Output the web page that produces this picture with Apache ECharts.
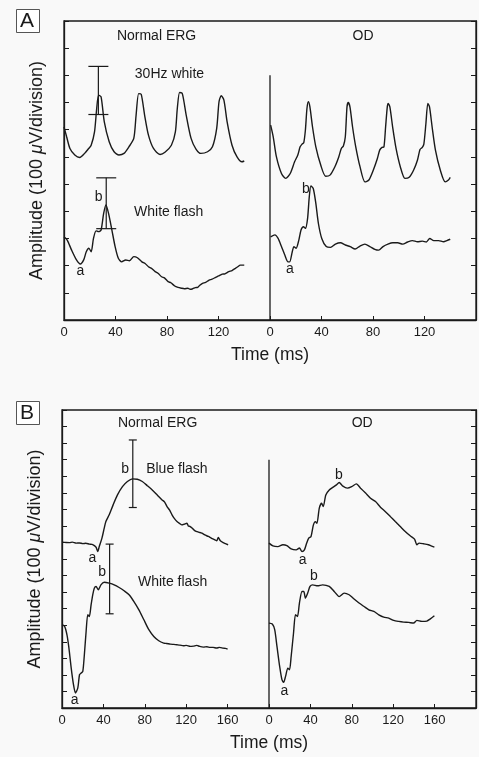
<!DOCTYPE html>
<html><head><meta charset="utf-8">
<script src="https://cdn.jsdelivr.net/npm/echarts@6/dist/echarts.min.js"></script>
<style>html,body{margin:0;padding:0;background:#f9f9f9}#c{width:479px;height:757px}</style>
</head><body><div id="c"></div>
<script>
// ---------- Panel A (time in ms, amplitude in divisions of 100 µV) ----------
const aRightOffset = 160;          // right panel (OD) starts at this global time
const aDividerTop = 9;             // OD panel axis height (divisions)
const aNormal30Hz = [[0,7.1],[2,6.75],[4.6,6.31],[8.4,6.07],[12.2,5.98],[16,6.13],[19,6.3],[21.1,6.43],[23.7,6.92],[25.4,7.78],[26.9,8.27],[28.8,8.21],[31.3,7.29],[35.1,6.56],[38.9,6.19],[42.7,6.07],[46.6,6.13],[50.4,6.37],[54.2,6.68],[56,7.54],[58,8.33],[60,8.30],[62.6,7.54],[65.6,6.80],[69.5,6.31],[74.6,6.09],[78.4,6.17],[83.4,6.43],[86.5,6.92],[88,7.78],[89.8,8.37],[91.9,8.33],[94.9,7.54],[98.7,6.68],[102.5,6.29],[106.3,6.13],[111.5,6.19],[115.3,6.37],[118.6,7.05],[120.4,8.03],[122.1,8.25],[124.2,8.09],[126.7,7.29],[130.5,6.43],[134.4,6.0],[138.2,5.82],[140,5.85]];
const aNormalFlash = [[0,3.06],[2.5,2.94],[5.9,2.57],[9.7,2.21],[12.7,2.06],[15.3,2.21],[17.3,2.51],[19.3,2.64],[21.1,2.51],[22.9,3.0],[24.9,3.28],[26.9,3.25],[28.8,3.31],[30.8,3.92],[32.6,4.23],[34.6,3.92],[37.2,3.31],[39.7,2.70],[42.2,2.27],[44.8,2.14],[47.9,2.21],[50.9,2.18],[54.2,2.33],[56.7,2.30],[60.5,2.14],[63,2.08],[65.6,1.96],[68,1.9],[70.8,1.78],[73,1.72],[75.8,1.59],[78,1.55],[80.9,1.41],[83,1.37],[86,1.25],[88.5,1.2],[91.1,1.17],[93.5,1.15],[96.2,1.17],[98,1.13],[100,1.15],[102,1.19],[103.8,1.20],[105.5,1.28],[107.6,1.35],[110,1.38],[112.7,1.47],[115,1.5],[117.8,1.57],[120,1.62],[122.9,1.69],[125,1.7],[128,1.78],[130.5,1.82],[133.1,1.90],[135,1.96],[136.9,2.02],[140,2.02]];
const aOD30Hz = [[0.5,7.17],[2.5,6.74],[5,6.0],[8.9,5.39],[12.2,5.21],[15.7,5.39],[19.1,5.82],[21.6,6.07],[23.4,6.37],[24.9,6.47],[26.2,6.52],[27.5,6.99],[28.7,7.78],[29.8,8.03],[31,7.84],[33,7.11],[35.6,6.37],[39.4,5.70],[43.2,5.29],[46.6,5.33],[50.4,5.64],[53.4,6.0],[55.4,6.31],[57,6.40],[58.5,6.74],[59.8,7.84],[60.8,8.0],[62.1,7.84],[64.1,7.11],[66.6,6.37],[69.9,5.64],[73.7,5.08],[76.8,5.15],[80.2,5.51],[83.4,5.94],[85.2,6.25],[87,6.35],[88.5,6.37],[89.8,7.11],[91.1,7.84],[91.8,7.97],[93.1,7.84],[95.4,7.05],[97.9,6.31],[101.2,5.64],[104.8,5.21],[108.1,5.25],[111.5,5.51],[114.5,5.88],[116.5,6.27],[118.3,6.35],[119.5,6.47],[121.1,7.23],[122.6,7.97],[123.9,7.84],[125.9,7.11],[128.5,6.25],[132.3,5.51],[136.1,5.08],[138.6,5.15],[140,5.25]];
const aODFlash = [[0.5,3.06],[3.8,3.13],[6.3,3.0],[8.9,2.70],[11.5,2.39],[14,2.14],[15.3,2.14],[17.3,2.51],[18.6,2.70],[20.3,2.64],[22.4,2.94],[24.1,3.31],[26,3.43],[27.5,3.37],[29.2,3.74],[30.5,4.53],[31.8,4.93],[33.6,4.84],[35.6,4.29],[37.6,3.55],[40.2,3.0],[43.7,2.70],[47,2.67],[50.8,2.79],[54.7,2.84],[58.5,2.76],[62.3,2.70],[66.1,2.61],[69.9,2.72],[73.7,2.79],[77.6,2.70],[81.4,2.60],[84.4,2.57],[87.8,2.70],[91.6,2.79],[95.4,2.84],[99.2,2.84],[103.1,2.79],[106.9,2.87],[110.7,2.92],[114.5,2.88],[118.3,2.90],[121.4,2.87],[124.1,3.0],[127.2,2.92],[131,2.92],[134.8,2.88],[137.4,2.92],[140,2.97]];
// error bars: [time, low, high]
const aErrorBars = [[26.7,7.56,9.33],[32.8,3.36,5.23]];
// annotations: [time, amplitude, text]
const aLabels = [[71.9,10.46,'Normal ERG'],[232.3,10.46,'OD'],[81.9,9.04,'30Hz white'],[81.3,3.96,'White flash'],[26.9,4.51,'b'],[12.8,1.80,'a'],[187.8,4.82,'b'],[175.5,1.87,'a']];

// ---------- Panel B ----------
const bRightOffset = 200;
const bDividerTop = 15;
const bNormalBlue = [[0,10.02],[4,10.0],[7.3,9.99],[10,10.02],[13.7,9.96],[17,9.97],[20.1,9.93],[23,9.95],[26.4,9.90],[29,9.88],[31.2,9.81],[33,9.7],[34.5,9.45],[36,9.75],[38.6,10.26],[40.8,10.86],[42.4,11.26],[45.6,11.67],[49.4,12.27],[53.6,12.87],[58.4,13.37],[63.2,13.68],[68,13.84],[72.8,13.82],[77.6,13.68],[82.4,13.43],[87.2,13.17],[92,12.87],[96.7,12.57],[99,12.45],[101.5,12.17],[104,11.95],[106.3,11.67],[108.5,11.45],[111.1,11.26],[113.5,11.15],[115.9,11.06],[118,11.1],[120.7,11.16],[122,11.0],[123.9,10.96],[126,10.85],[128.6,10.70],[132,10.62],[135.1,10.56],[138,10.45],[141.4,10.36],[144.5,10.25],[147.8,10.16],[149.5,10.1],[151,10.30],[153,10.1],[155.7,9.99],[158,9.93],[160.5,9.86]];
const bNormalWhite = [[0,5.03],[2.5,4.93],[4.8,4.42],[6.7,3.62],[8.9,2.41],[11.1,1.41],[13,0.91],[15.3,1.21],[16.9,2.01],[18.5,2.11],[20.1,2.21],[21.6,3.22],[23.3,4.62],[24.9,5.63],[26.4,5.53],[28.1,6.23],[29.7,6.84],[31.2,7.24],[32.9,7.34],[35.1,7.14],[37.6,7.44],[40.8,7.60],[45.6,7.54],[50.4,7.44],[55.2,7.28],[60,7.08],[64.8,6.84],[69.5,6.43],[74.3,5.93],[79.1,5.33],[83.9,4.73],[88.7,4.32],[93.5,4.06],[98.3,3.92],[101,3.9],[104.7,3.86],[108,3.84],[111.1,3.82],[114,3.8],[117.4,3.76],[120,3.78],[123.9,3.72],[127,3.74],[130.3,3.78],[133,3.72],[136.6,3.68],[140,3.7],[143,3.66],[146,3.66],[149.4,3.62],[152,3.66],[155.7,3.62],[158,3.6],[160,3.56]];
const bODBlue = [[0,9.96],[3.8,9.79],[8.6,9.75],[13.4,9.86],[17.3,9.81],[21.4,9.61],[26.2,9.55],[29.4,9.66],[31.9,9.45],[34.2,9.55],[36.4,9.96],[38.4,10.26],[40.6,10.36],[42.9,11.06],[44.8,11.26],[46.3,11.16],[48.6,12.07],[50.8,12.37],[52.4,12.17],[54.9,12.87],[58.2,13.17],[62,13.34],[65.2,13.48],[67.8,13.62],[71,13.42],[75.7,13.28],[79.9,13.37],[84.4,13.54],[88.5,13.28],[93.3,12.98],[98.1,12.67],[102.9,12.47],[107.7,12.13],[112.5,11.86],[117.3,11.56],[122,11.26],[126.8,10.96],[131.6,10.66],[136.4,10.40],[140.6,10.20],[142.9,9.86],[145.1,9.96],[149.3,9.92],[154.1,9.86],[156.6,9.79],[159.8,9.72]];
const bODWhite = [[0,5.13],[3.2,5.07],[5.5,4.73],[7.7,3.72],[10.3,2.51],[12.5,1.71],[14.1,1.55],[16,1.91],[18.2,2.41],[19.8,2.31],[21.4,3.11],[23.7,4.53],[25.6,5.63],[27.5,5.53],[29.4,6.34],[31.9,7.04],[33.6,7.04],[35.2,6.64],[37.4,6.94],[39.6,7.34],[42.2,7.44],[47,7.38],[51.8,7.44],[58.2,7.34],[63,7.04],[67.8,6.73],[72.6,6.94],[77.4,6.84],[82.2,6.58],[87,6.34],[91.8,6.13],[96.5,5.93],[101.3,5.83],[106.1,5.63],[110.9,5.49],[115.7,5.43],[120.5,5.29],[125.3,5.23],[130.1,5.19],[134.9,5.17],[139.7,5.13],[142.9,5.29],[147.7,5.23],[152.5,5.25],[155.6,5.37],[159.8,5.57]];
const bErrorBars = [[68.4,12.11,16.19],[46,5.69,9.90]];
const bLabels = [[92.4,17.2,'Normal ERG'],[290,17.2,'OD'],[111,14.42,'Blue flash'],[61.1,14.42,'b'],[29.4,9.03,'a'],[38.7,8.23,'b'],[106.8,7.58,'White flash'],[12.2,0.50,'a'],[267.6,14.08,'b'],[232.4,8.95,'a'],[243.4,7.94,'b'],[214.9,1.04,'a']];

// ---------- chart ----------
const FONT = 'Liberation Sans, Arial, sans-serif';
const INK = '#1a1a1a';
const shift = (arr, off) => arr.map(([t, v]) => [t + off, v]);

function traceSeries(data, gi) {
  return {type:'line', xAxisIndex:gi, yAxisIndex:gi*2, data, showSymbol:false, smooth:0.25,
    lineStyle:{color:INK, width:1.4}, silent:true, animation:false};
}
function errSeries(data, gi, half) {
  return {type:'custom', xAxisIndex:gi, yAxisIndex:gi*2, data, silent:true, animation:false,
    renderItem:(params, api) => {
      const lo = api.coord([api.value(0), api.value(1)]);
      const hi = api.coord([api.value(0), api.value(2)]);
      const st = {stroke:INK, lineWidth:1.2};
      return {type:'group', children:[
        {type:'line', shape:{x1:lo[0], y1:lo[1], x2:hi[0], y2:hi[1]}, style:st},
        {type:'line', shape:{x1:lo[0]-half, y1:lo[1], x2:lo[0]+half, y2:lo[1]}, style:st},
        {type:'line', shape:{x1:hi[0]-half, y1:hi[1], x2:hi[0]+half, y2:hi[1]}, style:st}
      ]};
    }};
}
function labelSeries(data, gi) {
  return {type:'scatter', xAxisIndex:gi, yAxisIndex:gi*2, data, symbolSize:1, silent:true, animation:false,
    itemStyle:{color:'rgba(0,0,0,0)'},
    label:{show:true, position:'inside', formatter:p => p.data[2], color:INK, opacity:1,
      textBorderWidth:0, textBorderColor:'transparent', fontSize:14, fontFamily:FONT}};
}
function dividerSeries(off, top, gi) {
  return {type:'line', xAxisIndex:gi, yAxisIndex:gi*2, data:[[off,0],[off,top]], showSymbol:false,
    lineStyle:{color:INK, width:1.3}, silent:true, animation:false};
}
function xAxisCfg(gi, max, off) {
  return {type:'value', gridIndex:gi, min:0, max, interval:40,
    axisLine:{lineStyle:{color:INK, width:1.3}}, axisTick:{inside:true, length:4, lineStyle:{color:INK}},
    splitLine:{show:false},
    axisLabel:{color:INK, fontSize:13, fontFamily:FONT, margin:6,
      formatter:v => v >= max ? '' : (v >= off ? String(v - off) : String(v))},
    name:'Time (ms)', nameLocation:'middle', nameGap:26,
    nameTextStyle:{color:INK, fontSize:17.5, fontFamily:FONT}};
}
function yAxisCfg(gi, max, right) {
  const c = {type:'value', gridIndex:gi, min:0, max, interval:1, position:right?'right':'left',
    axisLine:{show:true, lineStyle:{color:INK, width:1.3}}, axisTick:{show:true, inside:true, length:5, lineStyle:{color:INK}},
    axisLabel:{show:false}, splitLine:{show:false}};
  if (!right) {
    c.name = 'Amplitude (100 {i|μ}V/division)';
    c.nameLocation = 'middle'; c.nameGap = 18; c.nameRotate = 90;
    c.nameTextStyle = {color:INK, fontSize:18, fontFamily:FONT, rich:{i:{fontStyle:'italic', fontSize:18, fontFamily:FONT, color:INK}}};
  }
  return c;
}

const chart = echarts.init(document.getElementById('c'), null, {renderer:'canvas'});
chart.setOption({
  backgroundColor:'#f9f9f9',
  animation:false,
  grid:[
    {left:64, top:21, width:417, height:299, show:true, borderColor:INK, borderWidth:1.3, backgroundColor:'transparent'},
    {left:62, top:410, width:417, height:298, show:true, borderColor:INK, borderWidth:1.3, backgroundColor:'transparent'}
  ],
  xAxis:[xAxisCfg(0, 320, aRightOffset), xAxisCfg(1, 400, bRightOffset)],
  yAxis:[yAxisCfg(0, 11, false), yAxisCfg(0, 11, true), yAxisCfg(1, 18, false), yAxisCfg(1, 18, true)],
  graphic:[
    {type:'rect', left:16, top:9, shape:{width:23, height:23}, style:{fill:'#fff', stroke:'#555', lineWidth:1}},
    {type:'text', left:20, top:11, style:{text:'A', font:'21px '+FONT, fill:INK}},
    {type:'rect', left:16, top:401, shape:{width:23, height:23}, style:{fill:'#fff', stroke:'#555', lineWidth:1}},
    {type:'text', left:20, top:403, style:{text:'B', font:'21px '+FONT, fill:INK}}
  ],
  series:[
    traceSeries(aNormal30Hz, 0), traceSeries(aNormalFlash, 0),
    traceSeries(shift(aOD30Hz, aRightOffset), 0), traceSeries(shift(aODFlash, aRightOffset), 0),
    dividerSeries(aRightOffset, aDividerTop, 0),
    errSeries(aErrorBars, 0, 10), labelSeries(aLabels, 0),
    traceSeries(bNormalBlue, 1), traceSeries(bNormalWhite, 1),
    traceSeries(shift(bODBlue, bRightOffset), 1), traceSeries(shift(bODWhite, bRightOffset), 1),
    dividerSeries(bRightOffset, bDividerTop, 1),
    errSeries(bErrorBars, 1, 4), labelSeries(bLabels, 1)
  ]
});
</script></body></html>
